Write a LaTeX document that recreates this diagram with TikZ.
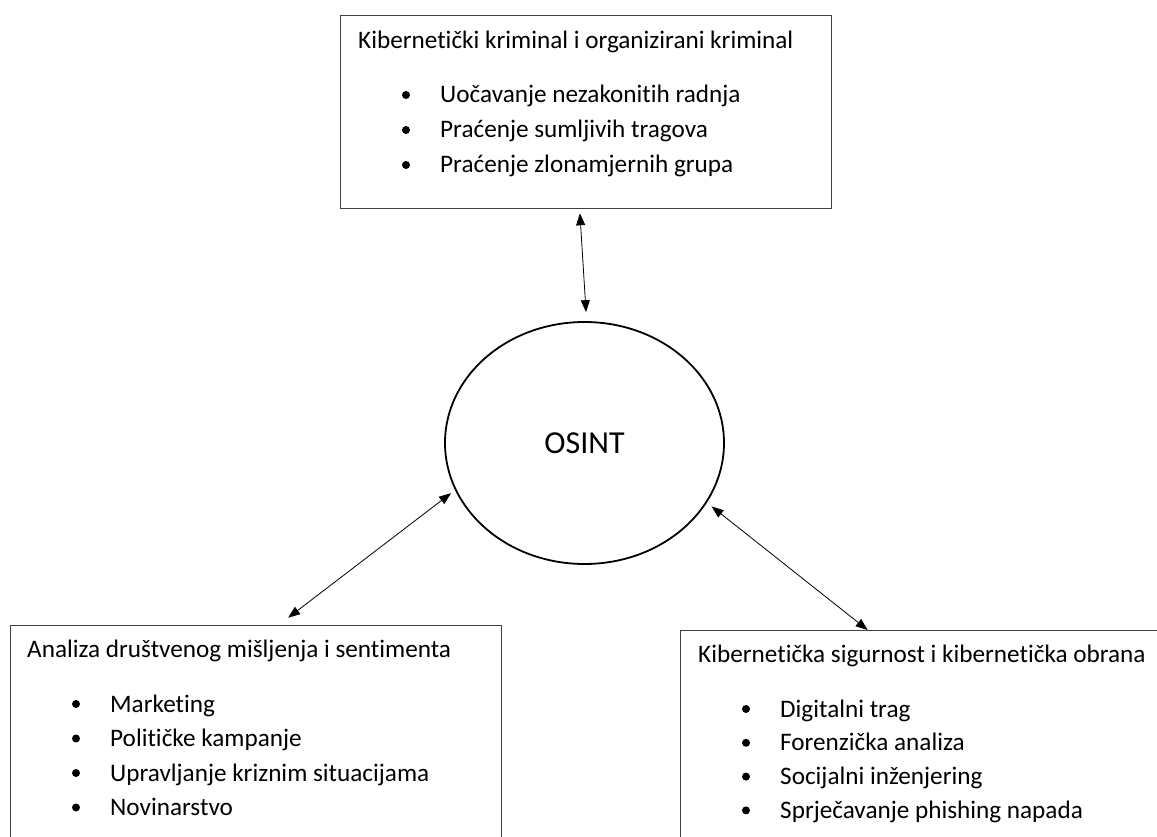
\documentclass[tikz,border=0pt]{standalone}
\usepackage{fontspec}
\setmainfont{Carlito}[Ligatures=NoCommon]
\usetikzlibrary{arrows.meta}
\usetikzlibrary{shapes.geometric}

\begin{document}
\begin{tikzpicture}[x=1pt, y=-1pt, >={Triangle[length=12pt,width=9pt]},
  every node/.style={font=\fontsize{25.2}{34}\selectfont, inner sep=0, text=black},
  area/.style={draw=black!75, line width=1.3pt, rectangle, anchor=north west},
  link/.style={<->, line width=0.8pt}]
\clip (0,0) rectangle (1157,837);
\fill[white] (0,0) rectangle (1157,837);
% the three fields
\node[area, minimum width=491pt, minimum height=193pt] (crime) at (340,15) {};
\node[area, minimum width=491pt, minimum height=300pt] (opinion) at (10,625) {};
\node[area, minimum width=520pt, minimum height=300pt] (defence) at (680,630) {};
\node[draw, ellipse, line width=1.8pt, minimum width=279pt, minimum height=242pt,
  font=\fontsize{32}{38}\selectfont] (osint) at (584.5,443) {OSINT};
% titles
\node[anchor=base west] (crime-t) at ([shift={(18,34)}]crime.north west) {Kibernetički kriminal i organizirani kriminal};
\node[anchor=base west] (opinion-t) at ([shift={(17,32)}]opinion.north west) {Analiza društvenog mišljenja i sentimenta};
\node[anchor=base west] (defence-t) at ([shift={(18,32)}]defence.north west) {Kibernetička sigurnost i kibernetička obrana};
% bullet lists
\foreach \t [count=\i] in {Uočavanje nezakonitih radnja, Praćenje sumljivih tragova, Praćenje zlonamjernih grupa} {
 \fill ([shift={(66,80+35*(\i-1))}]crime.north west) circle (4pt);
 \node[anchor=base west] (crime-\i) at ([shift={(100,88+35*(\i-1))}]crime.north west) {\t};
}
\foreach \t [count=\i] in {Marketing, Političke kampanje, Upravljanje kriznim situacijama, Novinarstvo} {
 \fill ([shift={(66,79+34.5*(\i-1))}]opinion.north west) circle (4pt);
 \node[anchor=base west] (opinion-\i) at ([shift={(100,87+34.5*(\i-1))}]opinion.north west) {\t};
}
\foreach \t [count=\i] in {Digitalni trag, Forenzička analiza, Socijalni inženjering, Sprječavanje phishing napada} {
 \fill ([shift={(66,79+33.8*(\i-1))}]defence.north west) circle (4pt);
 \node[anchor=base west] (defence-\i) at ([shift={(100,87+33.8*(\i-1))}]defence.north west) {\t};
}
% connections to OSINT
\draw[link, shorten <=4pt, shorten >=9pt] ([xshift=-6.5pt]crime.south) -- (osint.89);
\draw[link, shorten <=12pt, shorten >=5pt] ([xshift=22.5pt]opinion.north) -- (osint.200);
\draw[link, shorten <=6pt] (osint.334) -- ([xshift=-73pt]defence.north);
\end{tikzpicture}
\end{document}
